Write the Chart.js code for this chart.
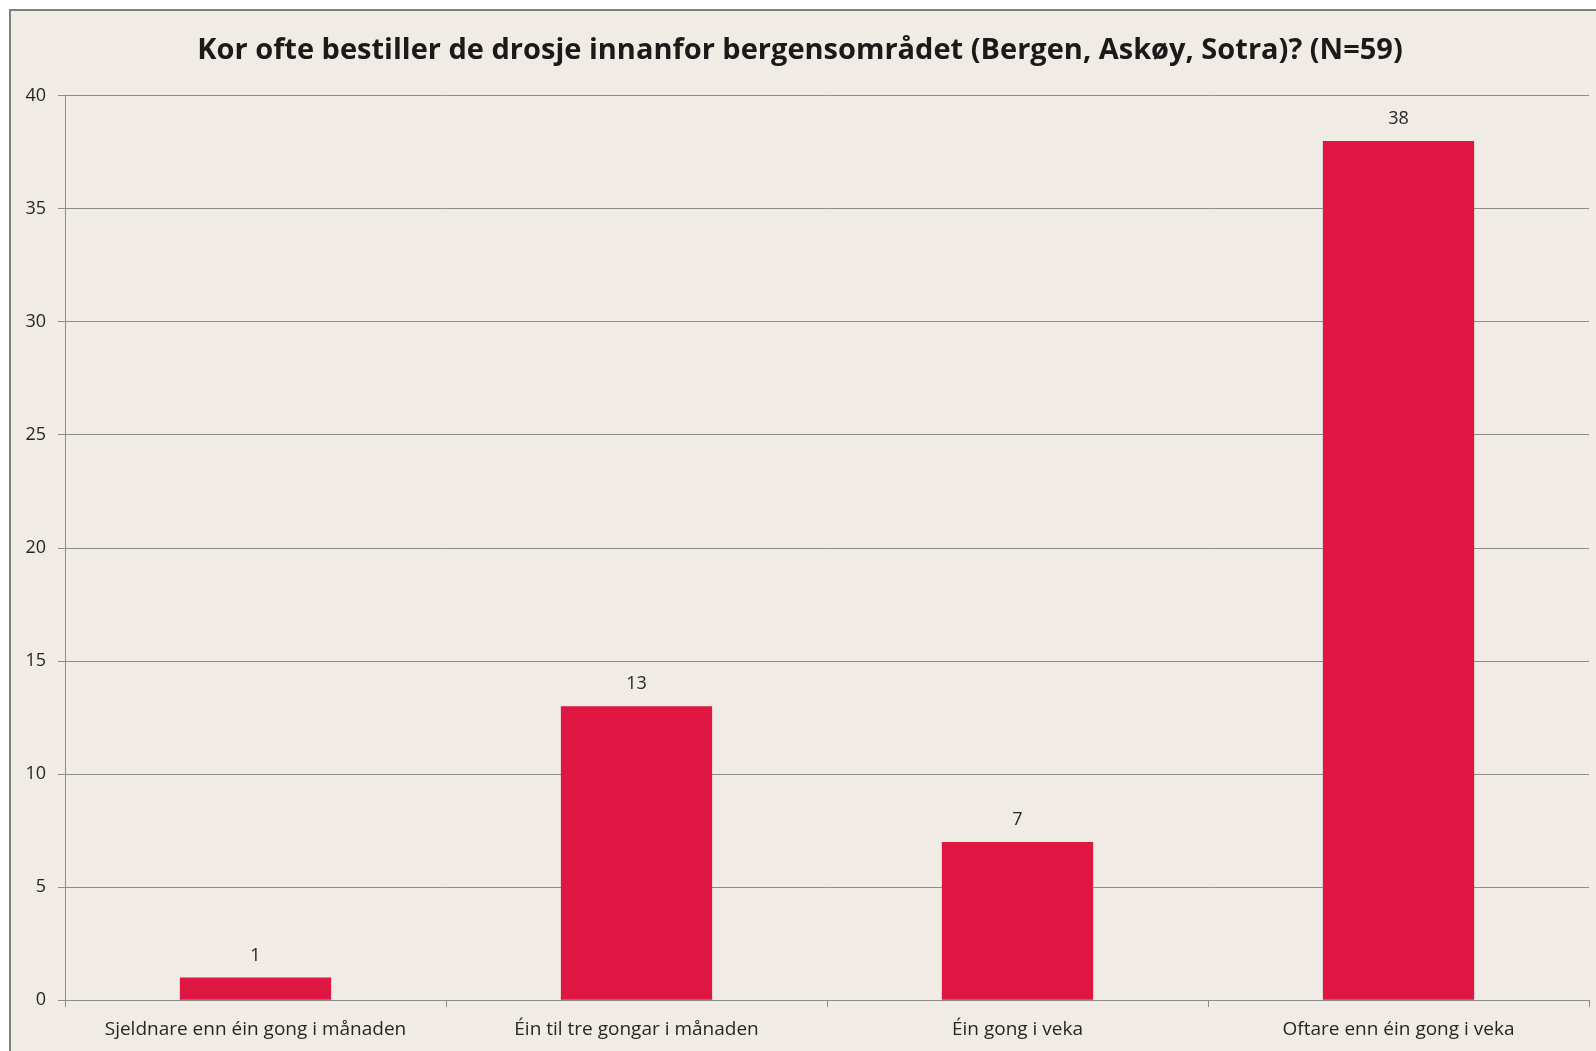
<!DOCTYPE html>
<html>
<head>
<meta charset="utf-8">
<script src="https://cdn.jsdelivr.net/npm/chart.js@4/dist/chart.umd.min.js"></script>
<style>
    body { margin: 0; background: #ffffff; }
    #wrap {
        position: absolute; left: 9px; top: 9px;
        width: 1587px; height: 1042px;
        border-left: 2px solid #808080; border-top: 2px solid #808080;
        background: #f0ece5;
    }
    canvas { display: block; }
</style>
</head>
<body>
<div id="wrap"><canvas id="chart_drosje" width="1587" height="1042"></canvas></div>
<script>
var title_text = 'Kor ofte bestiller de drosje innanfor bergensområdet (Bergen, Askøy, Sotra)? (N=59)';
var categories = ['Sjeldnare enn éin gong i månaden', 'Éin til tre gongar i månaden', 'Éin gong i veka', 'Oftare enn éin gong i veka'];
var answers = [1, 13, 7, 38];
var y_ticks = [0, 5, 10, 15, 20, 25, 30, 35, 40];

// value above each bar, placed from the bar elements
var valueLabels = {
    id: 'valueLabels',
    afterDatasetsDraw: function (chart) {
        var ctx = chart.ctx;
        var meta = chart.getDatasetMeta(0);
        ctx.save();
        ctx.font = '18px "Open Sans"';
        ctx.fillStyle = '#262626';
        ctx.textAlign = 'center';
        ctx.textBaseline = 'middle';
        meta.data.forEach(function (bar, i) {
            ctx.fillText(answers[i], bar.x, bar.y - 22);
        });
        ctx.restore();
    }
};

var ctx = document.getElementById('chart_drosje');
new Chart(ctx, {
    type: 'bar',
    data: {
        labels: categories,
        datasets: [{
            data: answers,
            backgroundColor: '#df1641',
            borderWidth: 0,
            categoryPercentage: 1,
            barPercentage: 0.397
        }]
    },
    plugins: [valueLabels],
    options: {
        responsive: false,
        animation: false,
        layout: {
            padding: { top: 0, right: 9, bottom: 1, left: 0 }
        },
        plugins: {
            legend: { display: false },
            tooltip: { enabled: false },
            title: {
                display: true,
                text: title_text,
                color: '#1a1a1a',
                font: { family: 'Open Sans', size: 29, weight: 'bold', lineHeight: 1.2 },
                padding: { top: 22, bottom: 28 }
            }
        },
        scales: {
            x: {
                grid: {
                    offset: true,
                    drawOnChartArea: false,
                    tickLength: 7,
                    color: '#8c8c8c'
                },
                border: { color: '#8c8c8c' },
                ticks: {
                    color: '#262626',
                    font: { family: 'Open Sans', size: 19 },
                    padding: 11,
                    maxRotation: 0
                }
            },
            y: {
                min: 0,
                max: 40,
                afterFit: function (scale) { scale.width = 54; },
                afterBuildTicks: function (scale) {
                    scale.ticks = y_ticks.map(function (v) { return { value: v }; });
                },
                grid: {
                    color: '#8c8c8c',
                    tickLength: 7
                },
                border: { color: '#8c8c8c' },
                ticks: {
                    color: '#262626',
                    font: { family: 'Open Sans', size: 18 },
                    padding: 12
                }
            }
        }
    }
});
</script>
</body>
</html>
